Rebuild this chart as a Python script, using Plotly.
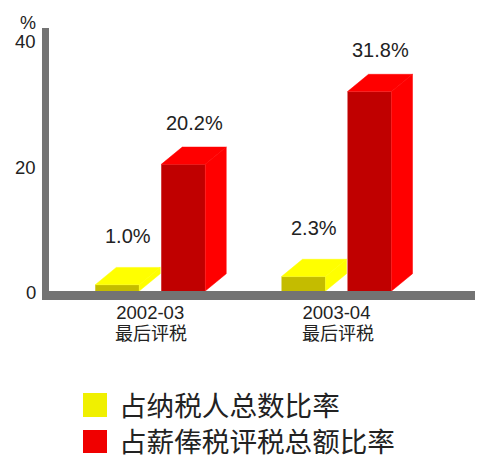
import plotly.graph_objects as go

# values
periods = ["2002-03", "2003-04"]
period_note = "最后评税"
taxpayers_pct = [1.0, 2.3]
salaries_tax_pct = [20.2, 31.8]
y_ticks = [0, 20, 40]
series_names = ["占纳税人总数比率", "占薪俸税评税总额比率"]

W, H = 477, 462
LEFT, RIGHT, TOP, BOTTOM = 49, 475, 28, 291
PX_X = 186.25  # px per period
PX_Y = 6.27  # px per percentage point
ZERO_PX = 150.25  # px position of the first period

GREY = "#737373"
TEXT = "#222222"
LATIN = "Liberation Sans, Arial, sans-serif"
CJK = "Noto Sans CJK SC, sans-serif"

bar_w = 44 / PX_X
depth_x = 21 / PX_X
depth_y = 17.3 / PX_Y
xs = list(range(len(periods)))


def paper_x(px):
    return (px - LEFT) / (RIGHT - LEFT)


def paper_y(px):
    return (BOTTOM - px) / (BOTTOM - TOP)


def add_series(fig, values, offset, front, face, name):
    # front face is a real bar, top and side are the fake 3d faces
    fig.add_bar(x=xs, y=values, width=bar_w, offset=offset, marker=dict(color=front, line_width=0), name=name)
    for x, v in zip(xs, values):
        l = x + offset
        r = l + bar_w
        fig.add_scatter(
            x=[l, l + depth_x, r + depth_x, r, l], y=[v, v + depth_y, v + depth_y, v, v],
            mode="lines", fill="toself", fillcolor=face, line=dict(color=face, width=0.5), hoverinfo="skip",
        )
        fig.add_scatter(
            x=[r, r + depth_x, r + depth_x, r, r], y=[0, depth_y, v + depth_y, v, 0],
            mode="lines", fill="toself", fillcolor=face, line=dict(color=face, width=0.5), hoverinfo="skip",
        )


fig = go.Figure()
add_series(fig, taxpayers_pct, -55 / PX_X, "#c4bc00", "#ffff00", series_names[0])
add_series(fig, salaries_tax_pct, 11 / PX_X, "#c00000", "#ff0000", series_names[1])


def note(text, size=20, font=LATIN, **kw):
    fig.add_annotation(
        text=text, showarrow=False, yanchor="middle", font=dict(family=font, size=size, color=TEXT), **kw
    )


# value labels above the bars
for x, v in zip(xs, taxpayers_pct):
    note(f"{v:.1f}%", x=x - 33 / PX_X, y=v, xshift=10.5, yshift=49)
for x, v in zip(xs, salaries_tax_pct):
    note(f"{v:.1f}%", x=x + 33 / PX_X, y=v, xshift=11, yshift=41.5)

# second line under each period
for x in xs:
    note(period_note, size=18, font=CJK, x=x, y=0, xshift=1, yshift=-41)

# y labels sit a touch below their values in the original
for t in y_ticks:
    note(str(t), size=18.5, x=paper_x(38), y=t, xref="paper", xanchor="right", yshift=-1.5)
note("%", size=18, x=paper_x(28), y=paper_y(23), xref="paper", yref="paper", xanchor="center")

# legend drawn by hand, swatches are bigger than plotly's own
legend_rows = [(393, 417, "#f0f000", 404), (430, 453, "#f00000", 440)]
for (y0, y1, color, text_y), name in zip(legend_rows, series_names):
    fig.add_shape(
        type="rect", xref="paper", yref="paper", x0=paper_x(83), x1=paper_x(107), y0=paper_y(y1), y1=paper_y(y0),
        fillcolor=color, line_width=0,
    )
    note(name, size=27.6, font=CJK, x=paper_x(117), y=paper_y(text_y), xref="paper", yref="paper", xanchor="left")

fig.update_layout(
    width=W, height=H, autosize=False,
    margin=dict(l=LEFT, r=W - RIGHT, t=TOP, b=H - BOTTOM, autoexpand=False),
    paper_bgcolor="white", plot_bgcolor="white",
    showlegend=False, barmode="overlay",
)
fig.update_xaxes(
    range=[(LEFT - ZERO_PX) / PX_X, (RIGHT - ZERO_PX) / PX_X],
    tickvals=xs, ticktext=periods, tickfont=dict(family=LATIN, size=18.5, color=TEXT),
    showline=True, linecolor=GREY, linewidth=9, showgrid=False, zeroline=False, ticks="", ticklabelstandoff=-3,
)
fig.update_yaxes(
    range=[0, (BOTTOM - TOP) / PX_Y],
    tickvals=y_ticks, showticklabels=False,
    showline=True, linecolor=GREY, linewidth=7, showgrid=False, zeroline=False, ticks="",
)

# page has a default 8px body margin, drop it so the figure fills the window
fig.write_html("out.html", config={"displayModeBar": False}, post_script="document.body.style.margin = '0';")
